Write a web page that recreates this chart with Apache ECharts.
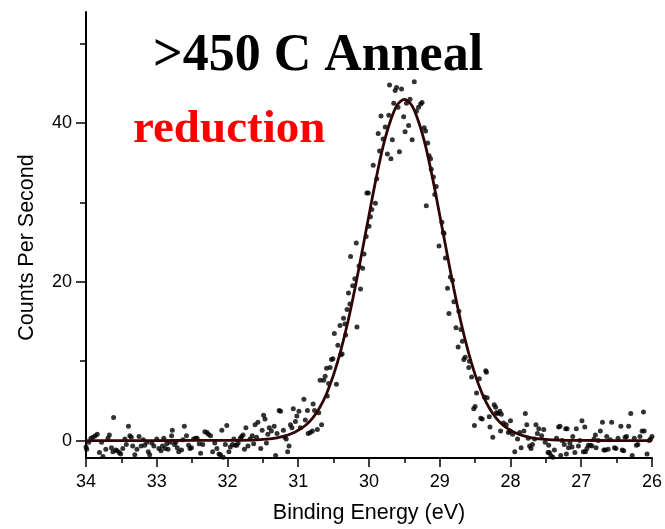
<!DOCTYPE html>
<html>
<head>
<meta charset="utf-8">
<script src="https://cdn.jsdelivr.net/npm/echarts@6/dist/echarts.min.js"></script>
<style>
html,body{margin:0;padding:0;background:#fff;}
#chart{width:665px;height:529px;}
</style>
</head>
<body>
<div id="chart"></div>
<script>
// ---- data ----
const chartTitle = '>450 C Anneal';
const chartNote = 'reduction';
const xAxisName = 'Binding Energy (eV)';
const yAxisName = 'Counts Per Second';
const xRange = [26, 34];
const yRange = [-2.2, 54];
const yMajorTicks = [0, 20, 40];
const yMinorTicks = [10, 30, 50];

// measured points: [binding energy (eV), counts per second]
const measuredPoints = [
[34.00,-0.8],[33.99,-1.1],[33.96,-0.2],[33.93,0.3],[33.90,0.4],[33.87,0.6],[33.84,0.8],[33.81,-1.5],[33.78,-0.2],[33.76,-2.0],[33.72,-1.1],[33.69,0.3],[33.67,0.7],[33.64,-0.9],[33.62,-1.4],[33.61,2.9],[33.58,-1.2],[33.56,-1.3],[33.53,-1.5],[33.51,-1.7],[33.48,-1.0],[33.45,0.2],[33.43,-0.5],[33.40,1.8],[33.38,0.6],[33.36,0.4],[33.34,-0.7],[33.31,-1.8],[33.28,-1.1],[33.25,0.5],[33.22,-0.7],[33.19,0.1],[33.17,-0.6],[33.14,-0.2],[33.12,-1.4],[33.10,-1.8],[33.07,-0.3],[33.04,-0.7],[33.00,0.2],
[32.97,-1.0],[32.94,-1.3],[32.92,-0.7],[32.90,0.3],[32.88,-1.0],[32.86,-0.4],[32.84,-1.1],[32.81,-0.2],[32.79,0.6],[32.78,1.3],[32.75,-0.5],[32.73,-0.2],[32.71,-0.9],[32.69,-1.4],[32.65,-1.2],[32.63,0.1],[32.61,1.8],[32.58,0.6],[32.55,-0.6],[32.53,-1.0],[32.51,-0.9],[32.48,0.2],[32.45,0.3],[32.43,0.3],[32.40,-0.4],[32.38,-1.6],[32.35,-0.5],[32.32,1.1],[32.29,1.0],[32.27,0.8],[32.24,0.6],[32.21,-1.4],[32.18,-0.3],[32.15,-1.0],[32.12,-1.7],[32.10,-1.8],[32.08,1.3],[32.06,-2.1],[32.03,-0.5],[32.01,1.9],
[31.98,-1.4],[31.96,-0.8],[31.93,-0.5],[31.91,0.2],[31.89,-0.6],[31.87,-0.6],[31.85,-0.3],[31.82,0.3],[31.80,0.5],[31.78,0.7],[31.76,-1.1],[31.74,1.6],[31.71,-0.7],[31.68,0.2],[31.65,0.6],[31.63,-0.4],[31.61,2.0],[31.59,0.4],[31.57,2.3],[31.53,-1.0],[31.51,1.3],[31.49,3.2],[31.47,2.7],[31.45,-0.3],[31.43,0.8],[31.41,1.6],[31.38,1.2],[31.34,1.8],[31.32,-1.9],[31.30,0.9],[31.27,3.8],[31.25,3.7],[31.21,1.3],[31.19,0.4],[31.17,0.2],[31.15,-1.4],[31.13,-0.7],[31.11,2.0],[31.09,1.6],[31.07,4.0],[31.04,2.4],[31.02,3.1],
[30.99,3.7],[30.97,1.6],[30.92,5.2],[30.90,2.6],[30.87,3.8],[30.86,0.9],[30.83,1.0],[30.80,1.2],[30.79,4.6],[30.77,3.8],[30.73,1.4],[30.71,3.5],[30.69,7.6],[30.67,2.0],[30.64,7.6],[30.62,8.1],[30.60,9.1],[30.59,5.6],[30.57,7.2],[30.55,9.2],[30.53,10.2],[30.51,10.3],[30.49,13.5],[30.46,7.1],[30.44,12.0],[30.41,14.5],[30.40,10.8],[30.38,10.9],[30.36,15.4],[30.34,14.7],[30.33,13.3],[30.31,16.5],[30.29,18.6],[30.27,17.2],[30.26,23.2],[30.23,19.5],[30.20,20.4],[30.18,24.9],[30.17,14.3],[30.14,22.0],[30.12,19.1],[30.09,21.7],[30.07,23.5],[30.04,25.7],[30.03,31.2],[30.01,31.2],[30.00,27.0],
[29.98,28.2],[29.96,29.1],[29.94,34.7],[29.91,29.9],[29.89,33.0],[29.87,38.7],[29.85,36.5],[29.83,40.9],[29.80,38.0],[29.77,39.5],[29.74,36.1],[29.72,41.0],[29.71,44.8],[29.69,35.5],[29.67,37.9],[29.65,42.5],[29.63,44.1],[29.61,44.5],[29.59,42.0],[29.57,36.4],[29.54,44.3],[29.51,40.8],[29.49,38.9],[29.47,42.5],[29.44,39.7],[29.42,43.0],[29.39,37.9],[29.36,45.2],[29.33,41.5],[29.30,42.0],[29.27,42.4],[29.25,42.6],[29.22,39.4],[29.20,39.0],[29.19,29.6],[29.17,37.5],[29.15,35.9],[29.13,35.5],[29.12,34.2],[29.09,33.2],[29.07,31.0],[29.05,32.0],[29.01,24.5],
[28.97,27.5],[28.95,26.2],[28.94,26.1],[28.92,23.0],[28.89,19.2],[28.87,16.0],[28.85,20.6],[28.82,20.2],[28.80,17.5],[28.77,14.2],[28.74,11.8],[28.73,16.3],[28.70,14.0],[28.68,12.5],[28.66,10.2],[28.64,10.5],[28.59,9.2],[28.58,10.0],[28.55,8.0],[28.52,4.0],[28.51,1.9],[28.50,4.3],[28.48,6.0],[28.44,7.8],[28.42,2.8],[28.40,2.7],[28.37,5.5],[28.35,8.8],[28.34,8.6],[28.33,5.4],[28.30,3.0],[28.29,1.7],[28.25,0.4],[28.23,4.5],[28.21,4.2],[28.20,3.5],[28.18,3.4],[28.15,3.7],[28.14,1.2],[28.13,3.3],[28.10,2.2],[28.06,2.0],[28.03,1.0],[28.01,1.2],[28.00,2.5],
[27.97,0.8],[27.94,-1.4],[27.90,0.2],[27.87,1.0],[27.85,-0.9],[27.81,1.2],[27.79,3.4],[27.77,2.0],[27.75,0.3],[27.73,-0.7],[27.71,-1.0],[27.69,-0.5],[27.66,0.2],[27.64,2.0],[27.62,0.9],[27.60,1.5],[27.56,0.6],[27.53,1.4],[27.51,-0.2],[27.47,-1.5],[27.46,-0.6],[27.45,-1.5],[27.43,-1.9],[27.40,-2.1],[27.38,-1.2],[27.35,0.3],[27.32,1.7],[27.30,1.8],[27.29,-1.9],[27.27,0.0],[27.24,-0.5],[27.22,1.5],[27.21,-1.7],[27.20,1.5],[27.18,-0.9],[27.16,-0.3],[27.13,-0.8],[27.12,0.5],[27.09,-1.5],[27.07,1.5],[27.04,-0.7],[27.02,0.0],
[26.99,2.5],[26.97,-1.4],[26.95,1.7],[26.94,-1.4],[26.92,-1.0],[26.90,-0.6],[26.87,-0.6],[26.85,-0.7],[26.82,0.2],[26.80,0.7],[26.79,-0.9],[26.76,0.0],[26.73,1.2],[26.70,2.3],[26.68,-1.2],[26.66,-1.2],[26.64,0.5],[26.62,-1.1],[26.59,0.1],[26.57,2.3],[26.53,-0.9],[26.51,-1.0],[26.48,0.3],[26.44,1.8],[26.42,-1.2],[26.40,-1.3],[26.38,0.4],[26.36,0.5],[26.33,1.8],[26.30,3.4],[26.28,-1.9],[26.25,0.3],[26.22,-0.6],[26.20,-0.5],[26.17,0.5],[26.14,1.2],[26.12,3.6],[26.11,1.2],[26.07,-1.7],[26.04,0.0],[26.02,0.2],[26.00,0.5]
];

// fitted peak curve: [binding energy (eV), counts per second]
const fitCurve = [
[34.0,0],[33.5,0],[33.0,0],[32.5,0.01],[32.2,0.01],[32.0,0.01],[31.9,0.02],[31.8,0.03],[31.7,0.05],[31.6,0.09],[31.5,0.14],[31.4,0.22],[31.3,0.35],[31.2,0.55],[31.1,0.85],[31.0,1.3],[30.9,1.9],[30.8,2.8],[30.7,4.1],[30.6,5.9],[30.5,8.3],[30.4,11.3],[30.3,14.9],[30.2,19.1],[30.1,23.7],[30.0,28.4],[29.9,33.0],[29.8,37.1],[29.7,40.2],[29.6,42.3],[29.5,43.0],[29.4,42.3],[29.3,40.2],[29.2,37.1],[29.1,33.0],[29.0,28.4],[28.9,23.7],[28.8,19.1],[28.7,14.9],[28.6,11.3],[28.5,8.3],[28.4,5.9],[28.3,4.1],[28.2,2.8],[28.1,1.9],[28.0,1.3],[27.9,0.85],[27.8,0.55],[27.7,0.35],[27.6,0.22],[27.5,0.14],[27.4,0.09],[27.3,0.05],[27.2,0.03],[27.1,0.02],[27.0,0.01],[26.5,0],[26.0,0]
];

// ---- chart ----
const chart = echarts.init(document.getElementById('chart'), null, {renderer: 'canvas'});
const sans = 'Liberation Sans, Arial, sans-serif';
const serif = 'Liberation Serif, Times New Roman, serif';
const axisLineStyle = {color: '#000', width: 2};

chart.setOption({
  animation: false,
  backgroundColor: '#fff',
  title: [
    {text: chartTitle, left: 153, top: 31, padding: 0,
     textStyle: {fontFamily: serif, fontWeight: 'bold', fontSize: 52, color: '#000', lineHeight: 52}},
    {text: chartNote, left: 133, top: 106, padding: 0,
     textStyle: {fontFamily: serif, fontWeight: 'bold', fontSize: 47, color: '#ff0000', lineHeight: 47}}
  ],
  grid: {left: 86, right: 10, top: 12, bottom: 68, containLabel: false},
  xAxis: {
    type: 'value', inverse: true, min: xRange[0], max: xRange[1], interval: 1,
    name: xAxisName, nameLocation: 'middle', nameGap: 44,
    nameTextStyle: {fontFamily: sans, fontSize: 21.5, color: '#000'},
    axisLine: {show: true, onZero: false, lineStyle: axisLineStyle},
    axisTick: {show: true, inside: false, length: 9, lineStyle: {color: '#000', width: 1.5}},
    minorTick: {show: true, splitNumber: 2, length: 5, lineStyle: {color: '#000', width: 1.5}},
    axisLabel: {fontFamily: sans, fontSize: 18, color: '#000', margin: 15},
    splitLine: {show: false}, minorSplitLine: {show: false}
  },
  yAxis: [
    {
      type: 'value', min: yRange[0], max: yRange[1], position: 'left',
      name: yAxisName, nameLocation: 'middle', nameGap: 48, nameRotate: 90,
      nameTextStyle: {fontFamily: sans, fontSize: 21.5, color: '#000', padding: [0, 25, 0, 0]},
      axisLine: {show: true, onZero: false, lineStyle: axisLineStyle},
      axisTick: {show: true, inside: false, length: 10, customValues: yMajorTicks, lineStyle: {color: '#000', width: 1.5}},
      axisLabel: {fontFamily: sans, fontSize: 18, color: '#000', margin: 14, customValues: yMajorTicks},
      splitLine: {show: false}
    },
    {
      type: 'value', min: yRange[0], max: yRange[1], position: 'left', offset: 0,
      axisLine: {show: false},
      axisTick: {show: true, inside: false, length: 6, customValues: yMinorTicks, lineStyle: {color: '#000', width: 1.5}},
      axisLabel: {show: false},
      splitLine: {show: false}
    }
  ],
  series: [
    {
      type: 'scatter', name: 'data', data: measuredPoints, xAxisIndex: 0, yAxisIndex: 0,
      symbol: 'circle', symbolSize: 5, itemStyle: {color: '#000'}, clip: true, z: 2
    },
    {
      type: 'line', name: 'fit', data: fitCurve, xAxisIndex: 0, yAxisIndex: 0,
      showSymbol: false, smooth: 0.3, clip: true,
      lineStyle: {color: '#2e0404', width: 2.8}, z: 3
    }
  ]
});
</script>
</body>
</html>
